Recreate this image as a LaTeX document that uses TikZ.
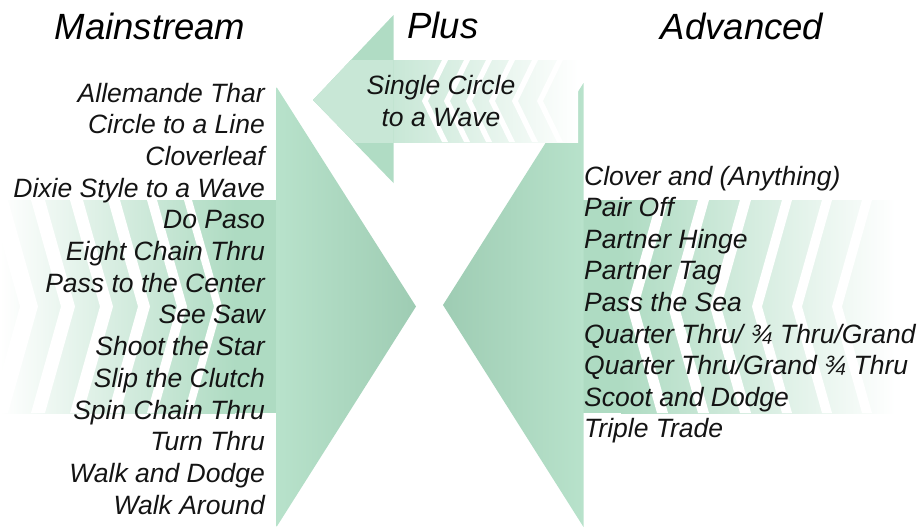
\documentclass[tikz,border=0pt]{standalone}
\usepackage{fontspec}
\setmainfont{Liberation Sans}
\definecolor{gL}{HTML}{B8E2CB}
\definecolor{gD}{HTML}{9ECCB3}
\definecolor{gS}{HTML}{AEDBC2}
\definecolor{gP}{HTML}{B0DCC4}
\definecolor{gPL}{HTML}{C8E7D6}
\tikzset{
  ttl/.style={font=\fontsize{36.5}{40}\selectfont\itshape, inner sep=0pt, anchor=base},
  itm/.style={font=\fontsize{26.5}{30}\selectfont\itshape, inner sep=0pt, text=black!92},
  iteml/.style={itm, anchor=base east},
  itemr/.style={itm, anchor=base west},
}
\begin{document}
\begin{tikzpicture}[x=1pt,y=-1pt]
\useasboundingbox (0,0) rectangle (922,528);

% ---------- Mainstream arrow (pointing right) ----------
\begin{scope}
  \clip (0,200) rectangle (277,413);
  \shade[left color=white, right color=gS] (0,200) rectangle (235,413);
  \fill[gS] (234,200) rectangle (278,413);
  \foreach \t/\w in {38/18,75/14,113/13,150/12,187/10,222/8}{
    \fill[white] (\t-30-\w,200) -- (\t-\w,306.5) -- (\t-30-\w,413) -- (\t-30,413) -- (\t,306.5) -- (\t-30,200) -- cycle;
  }
\end{scope}
\shade[left color=gL, right color=gD] (276.5,87) -- (416,306.5) -- (276.5,527) -- cycle;

% ---------- Advanced arrow (pointing left) ----------
\begin{scope}
  \clip (583,200) rectangle (922,413);
  \fill[gS] (582,200) rectangle (622,413);
  \shade[left color=gS, right color=white] (621,200) rectangle (895,413);
  \foreach \t/\w in {627/11,668/11,710/11,752/10,792/10,832/10}{
    \fill[white] (\t,306.5) -- (\t+30,200) -- (\t+30+\w,200) -- (\t+\w,306.5) -- (\t+30+\w,413) -- (\t+30,413) -- cycle;
  }
\end{scope}
\shade[left color=gD, right color=gL] (583.5,83) -- (443,305) -- (583.5,527) -- cycle;

% ---------- Plus arrow (pointing left) ----------
\begin{scope}
  \clip (393,60) rectangle (580,142);
  \shade[left color=gPL, right color=white] (393,60) rectangle (578,142);
  \foreach \t/\w in {422/6,444/6,466/6,489/6,512/6,537/6}{
    \fill[white] (\t,101) -- (\t+20,60) -- (\t+20+\w,60) -- (\t+\w,101) -- (\t+20+\w,142) -- (\t+20,142) -- cycle;
  }
\end{scope}
\fill[gP] (393.5,15) -- (313,100) -- (393.5,183) -- cycle;
\begin{scope}
  \clip (300,60) rectangle (393.5,142);
  \fill[gPL] (393.5,15) -- (313,100) -- (393.5,183) -- cycle;
\end{scope}

% ---------- Titles ----------
\node[ttl] (tM) at (150,39) {Mainstream};
\node[ttl] (tP) at (443,38) {Plus};
\node[ttl] (tA) at (742,39) {Advanced};

% ---------- Plus text ----------
\node[itm, anchor=base] (p1) at (441,94) {Single Circle};
\node[itm, anchor=base] (p2) at (441,126) {to a Wave};

% ---------- Mainstream list ----------
\foreach \s [count=\i from 0] in {Allemande Thar,Circle to a Line,Cloverleaf,Dixie Style to a Wave,Do Paso,Eight Chain Thru,Pass to the Center,See Saw,Shoot the Star,Slip the Clutch,Spin Chain Thru,Turn Thru,Walk and Dodge,Walk Around}{
  \node[iteml] (m\i) at (265,102+31.7*\i) {\s};
}

% ---------- Advanced list ----------
\foreach \s [count=\i from 0] in {Clover and (Anything),Pair Off,Partner Hinge,Partner Tag,Pass the Sea,Quarter Thru/ ¾ Thru/Grand,Quarter Thru/Grand ¾ Thru,Scoot and Dodge,Triple Trade}{
  \node[itemr] (a\i) at (584,185+31.6*\i) {\s};
}
\end{tikzpicture}
\end{document}
